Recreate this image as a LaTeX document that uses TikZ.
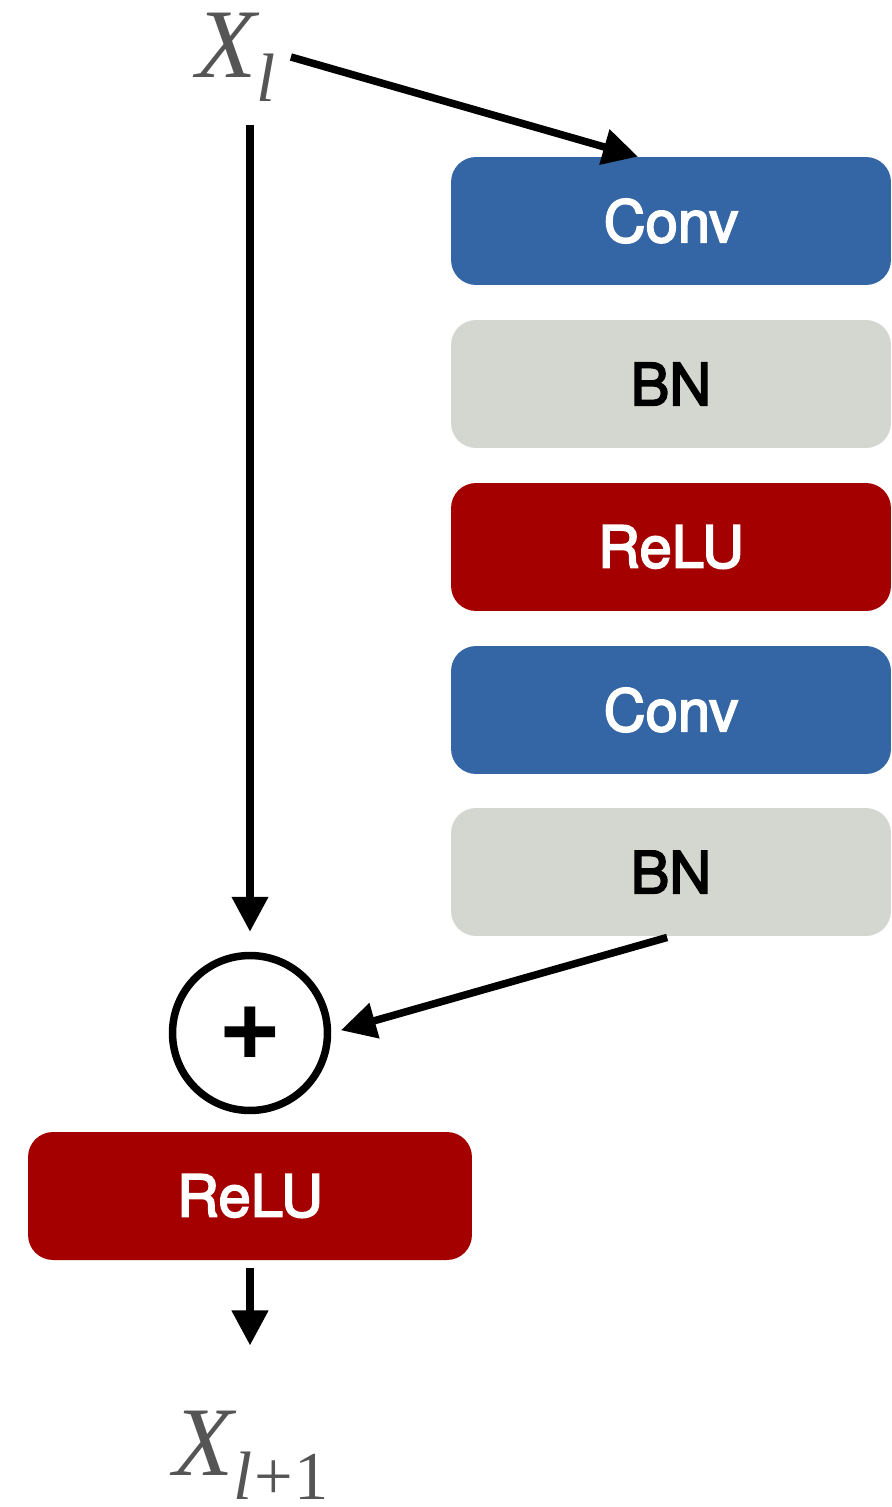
\documentclass[tikz,border=0pt]{standalone}
\usepackage{fontspec}
\setmainfont{Liberation Serif}
\setsansfont{TeX Gyre Heros}
\newfontfamily\blockfont{TeX Gyre Heros}[FakeBold=3]
\usetikzlibrary{arrows.meta}

\definecolor{convblue}{HTML}{3465A4}
\definecolor{bngray}{HTML}{D3D7CF}
\definecolor{relured}{HTML}{A40000}
\definecolor{vargray}{HTML}{555555}

\begin{document}
\begin{tikzpicture}[x=0.02cm,y=-0.02cm,
  box/.style={rounded corners=0.5cm, minimum width=8.8cm, minimum height=2.56cm,
    font=\blockfont\fontsize{33}{40}\selectfont},
  conv/.style={box, fill=convblue, text=white},
  bn/.style={box, fill=bngray, text=black},
  relu/.style={box, fill=relured, text=white},
  var/.style={text=vargray, inner sep=0.3cm, font=\fontsize{56}{60}\selectfont\itshape},
  flow/.style={line width=0.15cm, -{Triangle[length=0.7cm,width=0.7cm]}}]
  \useasboundingbox (0,0) rectangle (892,1507);

  %draw input and output
  \node[var] (xl) at (236,57) {X\raisebox{-0.48cm}{\fontsize{39}{40}\selectfont l}};
  \node[var, inner sep=0.1cm] (xout) at (251,1455) {X\raisebox{-0.48cm}{\fontsize{39}{40}\selectfont l\upshape\kern1pt+\kern1pt1}};

  %draw residual branch
  \node[conv] (conv1) at (671,221) {Conv};
  \node[bn]   (bn1)   at (671,384) {BN};
  \node[relu] (relu1) at (671,547) {ReLU};
  \node[conv] (conv2) at (671,710) {Conv};
  \node[bn]   (bn2)   at (671,872) {BN};

  %draw sum and last relu
  \node[circle, draw, line width=0.15cm, inner sep=0pt, minimum size=3.1cm,
    font=\sffamily\bfseries\fontsize{62}{70}\selectfont] (plus) at (250,1033) {+};
  \node[relu, minimum width=8.88cm] (relu2) at (250,1196) {ReLU};

  %draw arrows
  \draw[flow] (xl.east) -- ([xshift=-0.66cm]conv1.north);
  \draw[flow, shorten <=0.16cm, shorten >=0.4cm] (xl.south -| plus.north) -- (plus.north);
  \draw[flow, shorten <=0.08cm, shorten >=0.2cm] (bn2.south) -- (plus.east);
  \draw[flow, shorten <=0.16cm, shorten >=1.2cm] (relu2.south) -- (xout.north -| relu2.south);
\end{tikzpicture}
\end{document}
